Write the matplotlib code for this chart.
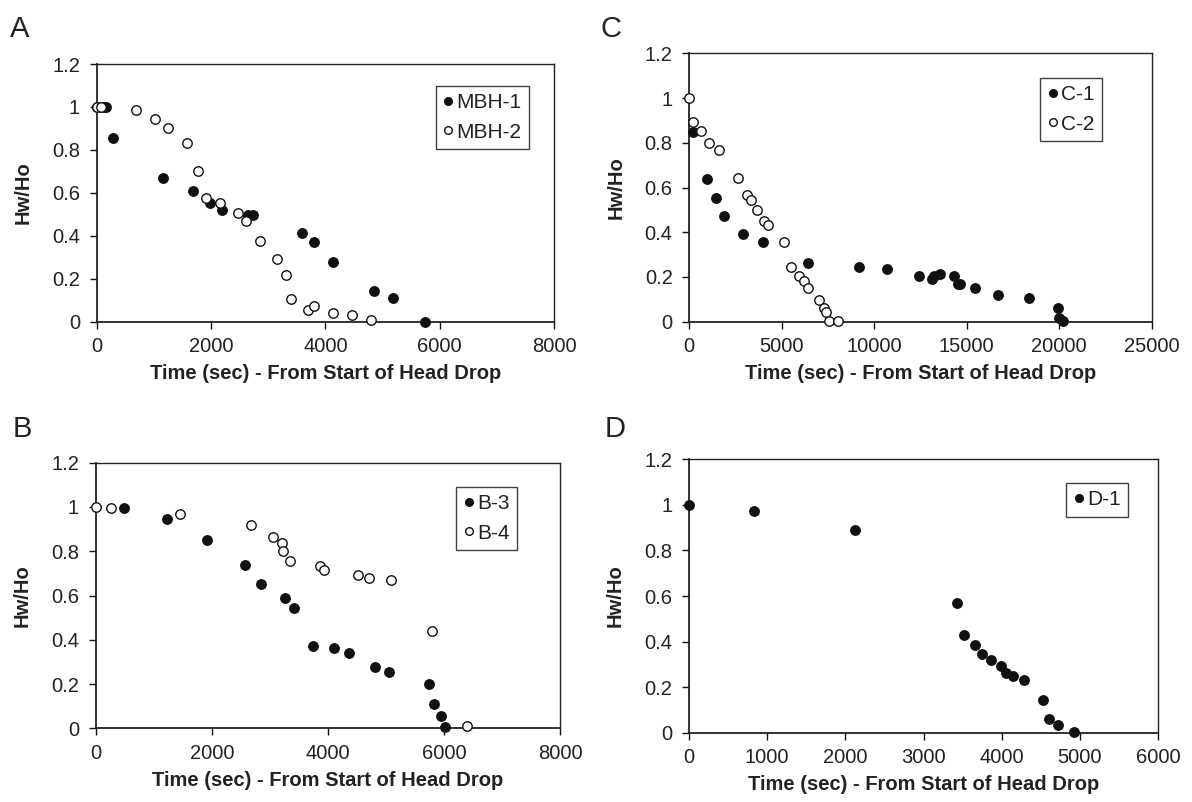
import matplotlib
matplotlib.use("Agg")
import matplotlib.pyplot as plt
from matplotlib.lines import Line2D

plt.rcParams['font.family'] = ['Liberation Sans', 'DejaVu Sans']

# ---------------- data ----------------
mbh1_x = [0, 120, 170, 278, 1159, 1681, 1983, 2191, 2655, 2736, 3583, 3797, 4133, 4852, 5183, 5739]
mbh1_y = [1.0, 1.0, 1.0, 0.855, 0.667, 0.609, 0.552, 0.519, 0.497, 0.497, 0.414, 0.372, 0.277, 0.145, 0.112, 0.0]
mbh2_x = [0, 75, 684, 1014, 1252, 1583, 1768, 1913, 2162, 2470, 2609, 2852, 3159, 3304, 3391, 3693, 3797, 4128, 4464, 4794]
mbh2_y = [1.0, 1.0, 0.988, 0.945, 0.903, 0.831, 0.700, 0.578, 0.555, 0.505, 0.470, 0.375, 0.292, 0.219, 0.105, 0.055, 0.073, 0.039, 0.031, 0.008]

c1_x = [180, 975, 1426, 1895, 2924, 3989, 6408, 9151, 10668, 12436, 13104, 13213, 13574, 14332, 14531, 14657, 15451, 16697, 18375, 19909, 19981, 20216]
c1_y = [0.846, 0.636, 0.551, 0.472, 0.394, 0.355, 0.262, 0.245, 0.237, 0.205, 0.190, 0.205, 0.214, 0.205, 0.168, 0.168, 0.150, 0.120, 0.105, 0.060, 0.015, 0.005]
c2_x = [0, 217, 614, 1065, 1625, 2653, 3141, 3321, 3682, 4061, 4242, 5108, 5487, 5938, 6227, 6408, 6986, 7256, 7382, 7545, 8032]
c2_y = [1.0, 0.894, 0.853, 0.801, 0.768, 0.644, 0.566, 0.542, 0.501, 0.449, 0.433, 0.355, 0.245, 0.205, 0.184, 0.150, 0.097, 0.060, 0.042, 0.003, 0.003]

b3_x = [491, 1234, 1920, 2577, 2846, 3268, 3417, 3748, 4103, 4371, 4817, 5057, 5737, 5834, 5948, 6017]
b3_y = [0.997, 0.944, 0.850, 0.740, 0.653, 0.589, 0.543, 0.370, 0.362, 0.340, 0.277, 0.253, 0.198, 0.111, 0.057, 0.004]
b4_x = [0, 257, 1446, 2668, 3057, 3206, 3234, 3354, 3857, 3926, 4520, 4703, 5086, 5800, 6400]
b4_y = [1.0, 0.997, 0.968, 0.920, 0.865, 0.835, 0.803, 0.755, 0.732, 0.717, 0.692, 0.677, 0.669, 0.441, 0.010]

d1_x = [0, 831, 2119, 3432, 3521, 3653, 3747, 3858, 3990, 4054, 4148, 4280, 4523, 4608, 4723, 4924]
d1_y = [1.0, 0.971, 0.888, 0.569, 0.431, 0.385, 0.347, 0.318, 0.294, 0.264, 0.249, 0.233, 0.143, 0.060, 0.035, 0.004]

panels = [
    # letter, series list, xlim, xticks, pixel box (left, top, right, bottom), letter pos, legend anchor
    ("A", [("MBH-1", mbh1_x, mbh1_y, True), ("MBH-2", mbh2_x, mbh2_y, False)],
     (0, 8000), [0, 2000, 4000, 6000, 8000], (96.7, 64, 554, 321.7), (10, 37), (529, 86)),
    ("C", [("C-1", c1_x, c1_y, True), ("C-2", c2_x, c2_y, False)],
     (0, 25000), [0, 5000, 10000, 15000, 20000, 25000], (689.3, 53.3, 1151.7, 321.7), (600, 37), (1102, 78)),
    ("B", [("B-3", b3_x, b3_y, True), ("B-4", b4_x, b4_y, False)],
     (0, 8000), [0, 2000, 4000, 6000, 8000], (95.7, 462.7, 560, 728.3), (13, 437), (517, 487)),
    ("D", [("D-1", d1_x, d1_y, True)],
     (0, 6000), [0, 1000, 2000, 3000, 4000, 5000, 6000], (689, 459.3, 1158, 732.7), (605, 437), (1128, 483)),
]

W, H = 1192, 802
fig = plt.figure(figsize=(W / 100, H / 100), dpi=100)
fig.patch.set_facecolor('white')

TXT = '#222222'
yticks = [0, 0.2, 0.4, 0.6, 0.8, 1.0, 1.2]
ylabels = ['0', '0.2', '0.4', '0.6', '0.8', '1', '1.2']

for letter, series, xlim, xticks, box, lpos, legpos in panels:
    l, t, r, b = box
    ax = fig.add_axes([l / W, 1 - b / H, (r - l) / W, (b - t) / H])
    for name, xs, ys, filled in series:
        ax.plot(xs, ys, linestyle='none', marker='o', markersize=6.8,
                markerfacecolor='#111111' if filled else 'white',
                markeredgecolor='#111111', markeredgewidth=1.0,
                label=name, clip_on=False, zorder=3)
    ax.set_xlim(*xlim)
    ax.set_ylim(0, 1.2)
    ax.set_xticks(xticks)
    ax.set_xticklabels([str(v) for v in xticks])
    ax.set_yticks(yticks)
    ax.set_yticklabels(ylabels)
    ax.tick_params(axis='both', direction='out', length=5, width=1.0,
                   labelsize=14.5, colors='#111111', labelcolor=TXT)
    ax.tick_params(axis='x', pad=6)
    ax.tick_params(axis='y', pad=7)
    ax.tick_params(top=False, right=False)
    for s in ax.spines.values():
        s.set_linewidth(1.0)
        s.set_color('#222222')
    ax.spines['left'].set_linewidth(1.3)
    ax.spines['bottom'].set_linewidth(1.3)
    ax.set_xlabel('Time (sec) - From Start of Head Drop', fontsize=14.5,
                  fontweight='bold', color=TXT, labelpad=6)
    ax.set_ylabel('Hw/Ho', fontsize=14.5, fontweight='bold', color=TXT, labelpad=14)

    handles = [Line2D([], [], linestyle='none', marker='o', markersize=5.5,
                      markerfacecolor='#111111' if f else 'white',
                      markeredgecolor='#111111', markeredgewidth=1.0)
               for (_, _, _, f) in series]
    names = [n for (n, _, _, _) in series]
    lx = (legpos[0] - l) / (r - l)
    ly = (b - legpos[1]) / (b - t)
    leg = ax.legend(handles, names, loc='upper right', bbox_to_anchor=(lx, ly),
                    frameon=True, fancybox=False, fontsize=15,
                    handlelength=0.5, handletextpad=0.15, borderpad=0.35,
                    labelspacing=0.5, borderaxespad=0.0)
    leg.get_frame().set_edgecolor('#111111')
    leg.get_frame().set_linewidth(1.0)
    for txt in leg.get_texts():
        txt.set_color(TXT)

    fig.text(lpos[0] / W, 1 - lpos[1] / H, letter, fontsize=21, color=TXT,
             ha='left', va='baseline')

fig.savefig('out.png', dpi=100, facecolor='white')
